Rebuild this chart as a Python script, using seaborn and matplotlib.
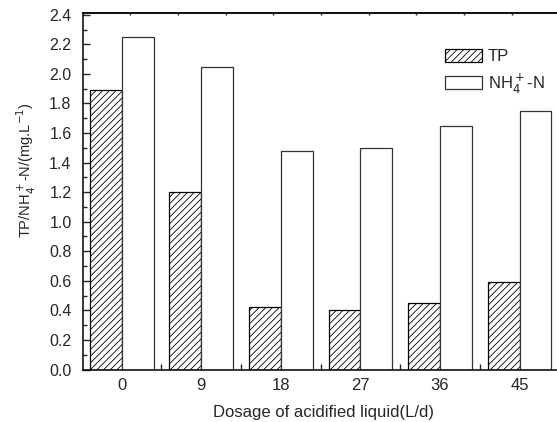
import numpy as np
import pandas as pd
import seaborn as sns
import matplotlib.pyplot as plt
from matplotlib.ticker import MultipleLocator, FixedLocator

dosage = ["0", "9", "18", "27", "36", "45"]
tp = [1.89, 1.20, 0.42, 0.40, 0.45, 0.59]
nh4 = [2.25, 2.05, 1.48, 1.50, 1.65, 1.75]
series = ["TP", "NH$_4^+$-N"]

df = pd.DataFrame({
    "dosage": dosage * 2,
    "value": tp + nh4,
    "kind": [series[0]] * len(tp) + [series[1]] * len(nh4),
})

sns.set_style("ticks")
plt.rcParams["font.family"] = ["Liberation Sans", "DejaVu Sans"]
plt.rcParams["hatch.linewidth"] = 0.6

fig = plt.figure(figsize=(5.57, 4.22), dpi=100)
ax = fig.add_axes([0.1485, 0.1244, 0.8628, 0.8441])

sns.barplot(data=df, x="dosage", y="value", hue="kind", order=dosage,
            palette=["white", "white"], width=0.8, edgecolor="black",
            linewidth=0.9, ax=ax, legend=False)

n = len(dosage)
for i, p in enumerate(ax.patches):
    if i < n:
        p.set_hatch("/////")
        p.set_edgecolor("black")
    else:
        p.set_edgecolor("#333333")

handles = [ax.patches[0], ax.patches[n]]
ax.legend(handles, series, loc="upper left", bbox_to_anchor=(0.754, 0.90),
          frameon=False, fontsize=12, handlelength=2.2, handleheight=0.85,
          handletextpad=0.35, labelspacing=0.42, borderpad=0, borderaxespad=0)

ax.set_xlim(-0.49, n - 0.45)
ax.set_ylim(0, 2.41)
ax.yaxis.set_major_locator(MultipleLocator(0.2))
ax.yaxis.set_minor_locator(MultipleLocator(0.1))
ax.xaxis.set_minor_locator(FixedLocator(np.arange(0.5, n - 0.5, 1.0)))
ax.tick_params(axis="y", which="major", direction="in", length=5, width=1, labelsize=11.5, pad=8)
ax.tick_params(axis="y", which="minor", direction="in", length=3, width=1)
ax.tick_params(axis="x", which="major", direction="in", length=4, width=1, labelsize=12, pad=6)
ax.tick_params(axis="x", which="minor", direction="in", length=4, width=1)
ax.set_yticklabels([f"{v:.1f}" for v in ax.get_yticks()])

top = ax.secondary_xaxis("top", functions=(lambda x: (x + 0.49) / (n - 0.01),
                                           lambda f: f * (n - 0.01) - 0.49))
top.set_xticks(np.arange(0, 1.01, 0.1))
top.tick_params(direction="in", length=1.5, width=1, labeltop=False)

for s in ["left", "bottom", "top", "right"]:
    ax.spines[s].set_linewidth(1.1)
    ax.spines[s].set_color("black")
top.spines["top"].set_linewidth(1.1)

ax.set_xlabel("Dosage of acidified liquid(L/d)", fontsize=12, labelpad=9)
ax.set_ylabel("TP/NH$_4^+$-N/(mg.L$^{-1}$)", fontsize=10.5)
ax.yaxis.set_label_coords(-0.093, 0.56)

fig.savefig("out.png", dpi=100)
